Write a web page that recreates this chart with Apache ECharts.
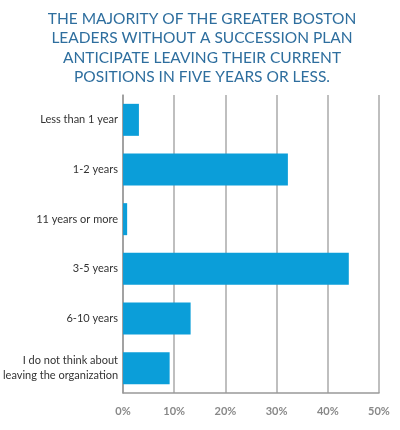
<!DOCTYPE html>
<html>
<head>
<meta charset="utf-8">
<script src="https://cdn.jsdelivr.net/npm/echarts@6/dist/echarts.min.js"></script>
<style>
  html, body { margin: 0; padding: 0; background: #fff; }
  #chart { width: 400px; height: 430px; }
</style>
</head>
<body>
<div id="chart"></div>
<script>
var titleLines = [
    'THE MAJORITY OF THE GREATER BOSTON',
    'LEADERS WITHOUT A SUCCESSION PLAN',
    'ANTICIPATE LEAVING THEIR CURRENT',
    'POSITIONS IN FIVE YEARS OR LESS.'
];
// top to bottom as drawn
var categories = [
    'Less than 1 year',
    '1-2 years',
    '11 years or more',
    '3-5 years',
    '6-10 years',
    'I do not think about\nleaving the organization'
];
var shares = [3.1, 32.2, 0.8, 44.1, 13.2, 9.1];

var myChart = echarts.init(document.getElementById('chart'));

var option = {
    animation: false,
    title: {
        text: titleLines.join('\n'),
        left: 197,
        top: 4,
        textAlign: 'center',
        textStyle: {
            fontFamily: 'Lato',
            fontSize: 15.5,
            fontWeight: 'normal',
            color: '#2e6e9e',
            lineHeight: 19.5
        }
    },
    grid: {
        left: 123,
        right: 21,
        top: 95,
        bottom: 37
    },
    xAxis: {
        type: 'value',
        min: 0,
        max: 50,
        interval: 10,
        axisLine: { show: true, lineStyle: { color: '#999', width: 1.5 } },
        axisTick: { show: false },
        splitLine: { lineStyle: { color: '#aaa', width: 1.5 } },
        axisLabel: {
            formatter: '{value}%',
            margin: 13,
            fontFamily: 'Lato',
            fontSize: 11,
            fontWeight: 'bold',
            color: '#888'
        }
    },
    yAxis: {
        type: 'category',
        inverse: true,
        data: categories,
        axisLine: { show: true, lineStyle: { color: '#999', width: 1.5 } },
        axisTick: { show: false },
        axisLabel: {
            margin: 5,
            fontFamily: 'Lato',
            fontSize: 11,
            color: '#333',
            lineHeight: 15
        }
    },
    series: [
        {
            type: 'bar',
            data: shares,
            barWidth: 32,
            itemStyle: { color: '#0b9ed9' }
        }
    ]
};

myChart.setOption(option);
</script>
</body>
</html>
